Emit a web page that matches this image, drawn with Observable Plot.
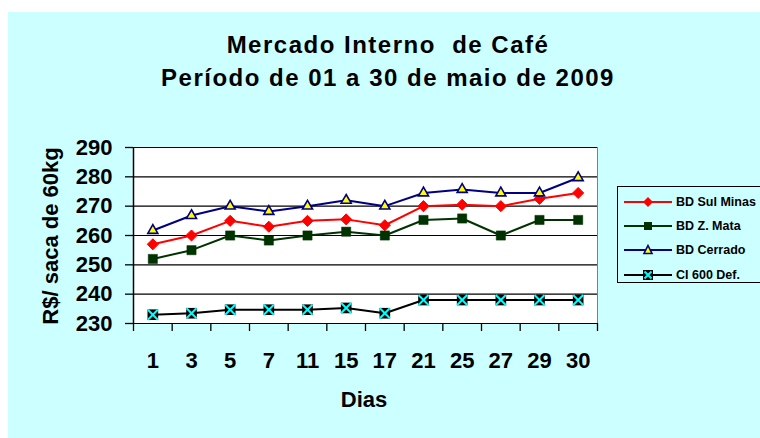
<!DOCTYPE html>
<html>
<head>
<meta charset="utf-8">
<script src="https://cdn.jsdelivr.net/npm/d3@7"></script>
<script src="https://cdn.jsdelivr.net/npm/@observablehq/plot@0.6"></script>
<style>
  html, body { margin: 0; padding: 0; background: #fff; }
  #wrap { position: relative; width: 760px; height: 438px; overflow: hidden; background: #fff;
          font-family: "Liberation Sans", Arial, sans-serif; font-weight: bold; color: #000; }
  #bg { position: absolute; left: 8px; top: 12px; right: 0; bottom: 0; background: #CCFFFF; }
  #chart { position: absolute; left: 0; top: 0; }
  #title { position: absolute; left: 88px; width: 600px; top: 28px; text-align: center;
           font-size: 24px; line-height: 33px; letter-spacing: 1.5px; white-space: nowrap; }
  #ytitle { position: absolute; left: -99px; top: 221px; width: 300px; height: 30px; line-height: 30px;
            text-align: center; font-size: 22px; transform: rotate(-90deg); white-space: nowrap; }
  #xtitle { position: absolute; left: 264px; width: 200px; top: 387px; text-align: center; font-size: 22px; line-height: 26px; }
  #legend { position: absolute; left: 617px; top: 186px; width: 170px; height: 97px; border: 1px solid #000; box-sizing: border-box; }
  .item { position: absolute; left: 6px; height: 14px; }
  .item svg { position: absolute; left: 0; top: 0; }
  .item span { position: absolute; left: 52px; top: -1px; font-size: 12.5px; line-height: 16px; white-space: nowrap; }
</style>
</head>
<body>
<div id="wrap">
  <div id="bg"></div>
  <div id="chart"></div>
  <div id="title">Mercado Interno&nbsp; de Café<br>Período de 01 a 30 de maio de 2009</div>
  <div id="ytitle">R$/ saca de 60kg</div>
  <div id="xtitle">Dias</div>
  <div id="legend"></div>
</div>
<script>
// ---- data ----
const dias = ["1", "3", "5", "7", "11", "15", "17", "21", "25", "27", "29", "30"];
const sulMinas = [257, 260, 265, 263, 265, 265.5, 263.5, 270, 270.5, 270, 272.5, 274.5];
const zMata    = [252, 255, 260, 258.3, 260, 261.3, 260, 265.3, 265.8, 260, 265.3, 265.3];
const cerrado  = [261.7, 266.8, 270, 268.2, 270, 272, 270, 274.5, 275.7, 274.5, 274.5, 279.7];
const ci600    = [233, 233.5, 234.7, 234.7, 234.7, 235.3, 233.5, 238, 238, 238, 238, 238];
const seriesNames = ["BD Sul Minas", "BD Z. Mata", "BD Cerrado", "CI 600 Def."];
const yTicks = [230, 240, 250, 260, 270, 280, 290];

const toRows = (vals) => vals.map((v, i) => ({i, dia: dias[i], v}));
const rSul = toRows(sulMinas), rMata = toRows(zMata), rCer = toRows(cerrado), rCi = toRows(ci600);

const catIdx = d3.range(dias.length);
const sepTicks = d3.range(dias.length + 1).map(i => i - 0.5);

const chart = Plot.plot({
  width: 760, height: 438,
  marginLeft: 133, marginRight: 163, marginTop: 147, marginBottom: 115,
  style: {background: "transparent", fontFamily: "'Liberation Sans', Arial, sans-serif", fontWeight: "bold", fontSize: "22px", color: "#000"},
  x: {type: "linear", domain: [-0.5, dias.length - 0.5]},
  y: {domain: [230, 290]},
  marks: [
    Plot.frame({fill: "white", stroke: "#808080"}),
    Plot.ruleY(yTicks, {stroke: "#000", strokeWidth: 1.2}),
    Plot.ruleX([-0.5], {stroke: "#000", strokeWidth: 1.5}),
    Plot.axisY({ticks: yTicks, tickSize: 8, tickPadding: 13, tickFormat: d => String(d), label: null, stroke: "#000", strokeWidth: 1.3}),
    Plot.axisX({ticks: sepTicks, tickSize: 8, tickFormat: () => "", label: null, stroke: "#000", strokeWidth: 1.3}),
    Plot.axisX({ticks: catIdx, tickSize: 0, tickPadding: 29, tickFormat: i => dias[i], label: null}),
    // BD Sul Minas
    Plot.line(rSul, {x: "i", y: "v", stroke: "#FF0000", strokeWidth: 2}),
    Plot.dot(rSul, {x: "i", y: "v", symbol: "diamond2", r: 5, fill: "#FF0000", stroke: "#FF0000", strokeWidth: 1}),
    // BD Z. Mata
    Plot.line(rMata, {x: "i", y: "v", stroke: "#003300", strokeWidth: 2}),
    Plot.dot(rMata, {x: "i", y: "v", symbol: "square", r: 5.2, fill: "#003300", stroke: "#003300", strokeWidth: 0.5}),
    // BD Cerrado
    Plot.line(rCer, {x: "i", y: "v", stroke: "#000080", strokeWidth: 2}),
    Plot.dot(rCer, {x: "i", y: "v", symbol: "triangle2", r: 4.8, fill: "#FFFF00", stroke: "#000080", strokeWidth: 1.6}),
    // CI 600 Def.
    Plot.line(rCi, {x: "i", y: "v", stroke: "#000000", strokeWidth: 2}),
    Plot.dot(rCi, {x: "i", y: "v", symbol: "square", r: 6, fill: "#000000", stroke: "none"}),
    Plot.dot(rCi, {x: "i", y: "v", symbol: "times", r: 4.6, stroke: "#00FFFF", strokeWidth: 2})
  ]
});
document.getElementById("chart").appendChild(chart);

// ---- legend ----
const legendIcons = [
  `<line x1="0" y1="7" x2="48" y2="7" stroke="#FF0000" stroke-width="2"/><polygon points="24,2 29,7 24,12 19,7" fill="#FF0000"/>`,
  `<line x1="0" y1="7" x2="48" y2="7" stroke="#003300" stroke-width="2"/><rect x="20" y="3" width="8" height="8" fill="#003300"/>`,
  `<line x1="0" y1="7" x2="48" y2="7" stroke="#000080" stroke-width="2"/><polygon points="24,2.5 28,10.5 20,10.5" fill="#FFFF00" stroke="#000080" stroke-width="1.6"/>`,
  `<line x1="0" y1="7" x2="48" y2="7" stroke="#000" stroke-width="2"/><rect x="19" y="2" width="10" height="10" fill="#000"/><path d="M20.5,3.5L27.5,10.5M27.5,3.5L20.5,10.5" stroke="#00FFFF" stroke-width="2"/>`
];
const legendTops = [8, 31.5, 56, 80.5];
const legend = document.getElementById("legend");
seriesNames.forEach((name, k) => {
  const it = document.createElement("div");
  it.className = "item";
  it.style.top = legendTops[k] + "px";
  it.innerHTML = `<svg width="50" height="14">${legendIcons[k]}</svg><span>${name}</span>`;
  legend.appendChild(it);
});
</script>
</body>
</html>
